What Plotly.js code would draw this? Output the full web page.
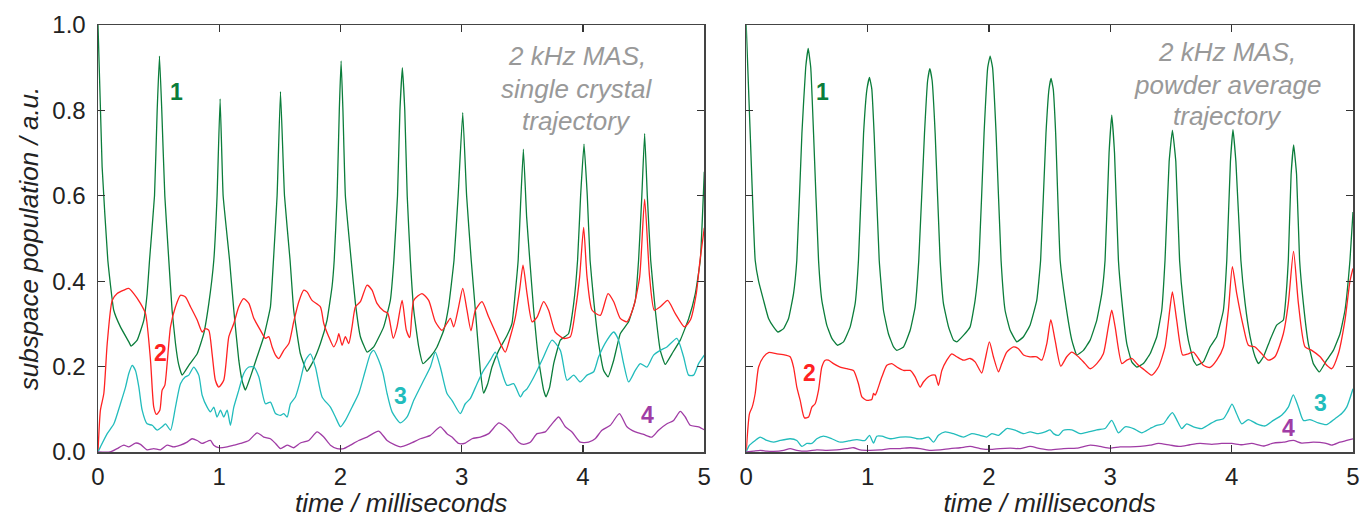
<!DOCTYPE html>
<html>
<head>
<meta charset="utf-8">
<script src="https://cdn.plot.ly/plotly-3.0.1.min.js"></script>
<style>html,body{margin:0;padding:0;background:#fff;}#chart{width:1364px;height:518px;}</style>
</head>
<body>
<div id="chart"></div>
<script>
// ---------- Left panel: single crystal trajectory ----------
var tL1 = [0,0.034,0.081,0.13,0.185,0.254,0.273,0.323,0.378,0.405,0.425,0.466,0.488,0.507,0.526,0.551,0.584,0.611,0.639,0.665,0.694,0.749,0.818,0.872,0.914,0.955,0.982,1.007,1.032,1.085,1.12,1.161,1.19,1.216,1.257,1.312,1.367,1.422,1.447,1.477,1.505,1.538,1.584,1.614,1.669,1.724,1.779,1.834,1.889,1.93,1.948,1.972,1.99,2.005,2.02,2.04,2.088,2.123,2.164,2.219,2.274,2.356,2.411,2.44,2.47,2.49,2.51,2.53,2.55,2.576,2.604,2.645,2.68,2.741,2.796,2.851,2.891,2.936,2.97,3.008,3.04,3.078,3.112,3.153,3.18,3.214,3.249,3.305,3.373,3.414,3.44,3.465,3.485,3.508,3.535,3.561,3.593,3.634,3.675,3.695,3.725,3.758,3.813,3.88,3.923,3.955,3.98,4.008,4.035,4.058,4.088,4.129,4.17,4.206,4.253,4.307,4.376,4.431,4.458,4.485,4.508,4.53,4.558,4.596,4.637,4.678,4.733,4.802,4.871,4.926,4.967,5.0];
var vL1 = [1.0,0.668,0.449,0.332,0.293,0.258,0.248,0.262,0.309,0.37,0.449,0.6,0.8,0.927,0.8,0.6,0.449,0.332,0.254,0.205,0.18,0.203,0.23,0.277,0.348,0.449,0.6,0.827,0.6,0.449,0.332,0.215,0.165,0.145,0.176,0.223,0.27,0.34,0.449,0.6,0.844,0.6,0.449,0.332,0.23,0.189,0.215,0.254,0.309,0.387,0.449,0.6,0.8,0.916,0.8,0.6,0.449,0.348,0.27,0.234,0.246,0.293,0.355,0.449,0.6,0.8,0.9,0.8,0.6,0.449,0.332,0.246,0.207,0.223,0.246,0.285,0.34,0.449,0.6,0.795,0.6,0.449,0.332,0.191,0.138,0.16,0.199,0.238,0.273,0.301,0.37,0.449,0.58,0.709,0.55,0.449,0.332,0.215,0.145,0.129,0.152,0.207,0.262,0.277,0.348,0.449,0.6,0.721,0.6,0.449,0.355,0.254,0.191,0.176,0.215,0.277,0.305,0.355,0.449,0.6,0.746,0.6,0.449,0.332,0.238,0.205,0.23,0.262,0.312,0.371,0.449,0.656];

var tL2 = [0,0.02,0.048,0.076,0.117,0.158,0.213,0.254,0.295,0.35,0.392,0.433,0.46,0.482,0.51,0.529,0.551,0.57,0.598,0.639,0.68,0.721,0.763,0.818,0.859,0.886,0.914,0.941,0.968,0.996,1.037,1.079,1.12,1.161,1.202,1.244,1.285,1.34,1.381,1.408,1.436,1.464,1.491,1.532,1.574,1.614,1.656,1.697,1.724,1.765,1.834,1.862,1.903,1.944,1.972,1.986,2.013,2.04,2.068,2.095,2.123,2.164,2.219,2.26,2.301,2.356,2.39,2.435,2.466,2.508,2.543,2.571,2.604,2.672,2.727,2.782,2.837,2.906,2.933,2.974,3.008,3.043,3.076,3.112,3.167,3.222,3.277,3.318,3.359,3.4,3.442,3.477,3.505,3.538,3.58,3.621,3.675,3.716,3.771,3.84,3.895,3.937,3.972,4.005,4.033,4.075,4.143,4.206,4.253,4.307,4.362,4.417,4.467,4.508,4.549,4.588,4.637,4.698,4.761,4.836,4.885,4.934,4.965,5.0];
var vL2 = [0,0.098,0.137,0.254,0.355,0.371,0.379,0.383,0.371,0.348,0.324,0.215,0.105,0.088,0.098,0.145,0.156,0.207,0.293,0.34,0.367,0.363,0.34,0.309,0.281,0.289,0.285,0.23,0.168,0.152,0.168,0.27,0.301,0.34,0.359,0.348,0.313,0.285,0.266,0.27,0.246,0.227,0.219,0.238,0.254,0.305,0.352,0.379,0.375,0.355,0.34,0.301,0.27,0.246,0.262,0.277,0.25,0.27,0.254,0.293,0.34,0.352,0.391,0.379,0.348,0.33,0.325,0.266,0.293,0.355,0.285,0.268,0.355,0.371,0.355,0.305,0.285,0.313,0.293,0.34,0.383,0.332,0.284,0.332,0.352,0.316,0.281,0.254,0.234,0.27,0.316,0.379,0.4375,0.371,0.305,0.316,0.352,0.332,0.281,0.266,0.27,0.332,0.41,0.526,0.41,0.332,0.32,0.371,0.352,0.313,0.305,0.34,0.41,0.592,0.41,0.332,0.34,0.355,0.324,0.293,0.309,0.371,0.45,0.525];

var tL3 = [0,0.02,0.076,0.131,0.185,0.227,0.254,0.282,0.309,0.337,0.364,0.405,0.447,0.488,0.529,0.557,0.598,0.639,0.68,0.721,0.749,0.79,0.831,0.859,0.9,0.927,0.955,0.982,1.01,1.037,1.065,1.092,1.12,1.161,1.202,1.244,1.285,1.326,1.381,1.422,1.464,1.505,1.532,1.56,1.587,1.628,1.669,1.711,1.752,1.793,1.848,1.917,1.958,2.0,2.04,2.095,2.15,2.205,2.247,2.274,2.315,2.35,2.384,2.425,2.494,2.549,2.604,2.686,2.741,2.782,2.823,2.878,2.919,2.988,3.029,3.07,3.126,3.18,3.235,3.277,3.318,3.373,3.428,3.483,3.51,3.538,3.58,3.621,3.675,3.744,3.813,3.868,3.923,3.977,4.033,4.088,4.129,4.198,4.253,4.293,4.335,4.376,4.431,4.472,4.527,4.582,4.637,4.692,4.774,4.829,4.871,4.912,4.953,5.0];
var vL3 = [0,0.012,0.043,0.066,0.113,0.152,0.184,0.203,0.191,0.152,0.098,0.066,0.0625,0.051,0.059,0.066,0.051,0.105,0.16,0.176,0.18,0.199,0.18,0.133,0.105,0.094,0.105,0.082,0.098,0.082,0.098,0.0625,0.105,0.145,0.184,0.199,0.199,0.176,0.113,0.117,0.09,0.086,0.09,0.082,0.113,0.129,0.168,0.215,0.23,0.199,0.129,0.105,0.082,0.059,0.074,0.105,0.137,0.191,0.23,0.238,0.215,0.185,0.137,0.094,0.068,0.082,0.121,0.168,0.199,0.234,0.199,0.137,0.121,0.09,0.113,0.125,0.16,0.191,0.215,0.234,0.199,0.156,0.16,0.129,0.141,0.148,0.168,0.191,0.223,0.262,0.238,0.168,0.18,0.164,0.18,0.188,0.223,0.262,0.281,0.262,0.207,0.164,0.191,0.207,0.199,0.227,0.238,0.246,0.266,0.223,0.18,0.18,0.207,0.227];

var tL4 = [0,0.1,0.158,0.213,0.254,0.309,0.35,0.405,0.46,0.515,0.57,0.625,0.68,0.735,0.776,0.818,0.859,0.886,0.927,0.955,0.996,1.065,1.12,1.175,1.244,1.312,1.367,1.422,1.464,1.505,1.56,1.614,1.669,1.738,1.807,1.862,1.917,1.972,2.027,2.082,2.15,2.219,2.315,2.384,2.452,2.494,2.576,2.659,2.741,2.823,2.878,2.919,2.974,3.029,3.084,3.153,3.222,3.305,3.359,3.414,3.469,3.51,3.565,3.621,3.689,3.744,3.799,3.854,3.909,3.977,4.046,4.1,4.156,4.225,4.3,4.362,4.431,4.5,4.568,4.623,4.692,4.747,4.802,4.843,4.884,4.953,5.0];
var vL4 = [0,0,0.008,0.016,0.012,0.021,0.018,0.005,0.008,0.005,0.016,0.012,0.016,0.023,0.031,0.027,0.02,0.023,0.027,0.016,0.01,0.012,0.016,0.02,0.027,0.045,0.035,0.031,0.02,0.008,0.016,0.01,0.021,0.027,0.047,0.035,0.016,0.008,0.008,0.016,0.027,0.035,0.049,0.027,0.016,0.012,0.02,0.031,0.039,0.059,0.043,0.035,0.02,0.021,0.031,0.035,0.043,0.068,0.059,0.043,0.023,0.018,0.023,0.043,0.047,0.066,0.082,0.059,0.047,0.023,0.023,0.031,0.051,0.0625,0.09,0.059,0.047,0.041,0.035,0.051,0.066,0.074,0.095,0.082,0.0625,0.059,0.052];

// ---------- Right panel: powder average trajectory ----------
var tR1 = [0,0.033,0.074,0.102,0.143,0.184,0.225,0.261,0.308,0.349,0.39,0.417,0.459,0.49,0.511,0.532,0.555,0.596,0.623,0.664,0.706,0.752,0.802,0.857,0.898,0.925,0.967,0.995,1.016,1.035,1.054,1.096,1.131,1.172,1.214,1.241,1.296,1.351,1.392,1.422,1.469,1.495,1.513,1.532,1.557,1.598,1.625,1.667,1.708,1.735,1.79,1.845,1.886,1.918,1.96,1.99,2.01,2.03,2.059,2.1,2.133,2.175,2.23,2.285,2.339,2.394,2.426,2.47,2.495,2.512,2.53,2.55,2.587,2.628,2.683,2.724,2.779,2.834,2.889,2.93,2.957,2.99,3.012,3.035,3.067,3.095,3.136,3.177,3.218,3.273,3.328,3.383,3.424,3.451,3.485,3.512,3.54,3.571,3.602,3.643,3.685,3.712,3.767,3.822,3.877,3.932,3.96,3.99,4.011,4.035,4.076,4.111,4.152,4.193,4.221,4.262,4.316,4.371,4.426,4.454,4.467,4.49,4.511,4.535,4.56,4.591,4.632,4.673,4.723,4.783,4.838,4.893,4.934,4.975,5.0];
var vR1 = [1.0,0.746,0.449,0.40,0.355,0.3125,0.293,0.281,0.289,0.3125,0.371,0.449,0.746,0.9,0.945,0.9,0.746,0.449,0.355,0.297,0.266,0.25,0.258,0.293,0.348,0.449,0.746,0.85,0.877,0.85,0.746,0.449,0.332,0.277,0.246,0.238,0.246,0.285,0.34,0.449,0.746,0.87,0.898,0.87,0.746,0.449,0.348,0.293,0.262,0.258,0.273,0.293,0.355,0.449,0.746,0.9,0.927,0.9,0.746,0.449,0.332,0.285,0.258,0.27,0.297,0.355,0.449,0.746,0.85,0.875,0.85,0.746,0.449,0.355,0.262,0.227,0.238,0.262,0.309,0.371,0.449,0.7,0.789,0.7,0.449,0.355,0.254,0.211,0.199,0.207,0.23,0.27,0.332,0.449,0.68,0.754,0.68,0.449,0.348,0.262,0.215,0.203,0.211,0.246,0.27,0.332,0.449,0.68,0.755,0.68,0.449,0.348,0.27,0.223,0.207,0.223,0.262,0.297,0.309,0.387,0.449,0.65,0.719,0.65,0.449,0.348,0.254,0.207,0.1875,0.215,0.238,0.277,0.332,0.449,0.562];

var tR2 = [0,0.027,0.049,0.074,0.102,0.143,0.184,0.253,0.321,0.362,0.39,0.417,0.445,0.48,0.514,0.541,0.568,0.596,0.623,0.651,0.678,0.719,0.774,0.829,0.884,0.925,0.953,0.994,1.035,1.049,1.063,1.076,1.118,1.159,1.2,1.241,1.296,1.351,1.392,1.433,1.46,1.502,1.529,1.557,1.584,1.612,1.653,1.694,1.735,1.79,1.845,1.886,1.941,1.968,2.004,2.037,2.079,2.106,2.147,2.202,2.243,2.285,2.339,2.394,2.436,2.477,2.51,2.545,2.592,2.641,2.683,2.737,2.792,2.834,2.889,2.943,2.984,3.012,3.04,3.095,3.136,3.177,3.232,3.287,3.342,3.397,3.451,3.493,3.512,3.547,3.597,3.643,3.685,3.726,3.767,3.822,3.877,3.932,3.973,4.006,4.042,4.097,4.138,4.193,4.248,4.303,4.357,4.426,4.467,4.51,4.55,4.605,4.66,4.729,4.784,4.825,4.879,4.934,4.975,5.0];
var vR2 = [0,0.09,0.105,0.137,0.199,0.223,0.233,0.23,0.227,0.223,0.199,0.152,0.121,0.08,0.082,0.105,0.113,0.145,0.199,0.215,0.215,0.207,0.199,0.195,0.191,0.16,0.129,0.121,0.123,0.137,0.133,0.141,0.176,0.203,0.207,0.199,0.191,0.191,0.176,0.152,0.164,0.176,0.18,0.18,0.156,0.191,0.215,0.23,0.223,0.215,0.219,0.211,0.185,0.215,0.258,0.223,0.1875,0.207,0.234,0.246,0.242,0.227,0.223,0.223,0.215,0.254,0.31,0.262,0.201,0.223,0.234,0.223,0.207,0.195,0.207,0.23,0.293,0.332,0.293,0.207,0.215,0.219,0.203,0.191,0.18,0.199,0.246,0.34,0.375,0.309,0.227,0.23,0.234,0.219,0.203,0.198,0.215,0.246,0.332,0.434,0.371,0.293,0.25,0.246,0.23,0.215,0.223,0.277,0.348,0.47,0.348,0.246,0.238,0.223,0.203,0.195,0.23,0.309,0.40,0.43];

var tR3 = [0,0.027,0.074,0.115,0.17,0.225,0.28,0.362,0.417,0.459,0.5,0.541,0.582,0.637,0.706,0.774,0.843,0.912,0.98,1.016,1.049,1.076,1.118,1.186,1.269,1.351,1.406,1.447,1.502,1.543,1.584,1.639,1.708,1.79,1.859,1.927,1.982,2.024,2.079,2.147,2.216,2.285,2.339,2.408,2.463,2.504,2.532,2.573,2.614,2.683,2.751,2.82,2.889,2.957,3.012,3.067,3.122,3.191,3.259,3.328,3.383,3.438,3.479,3.512,3.547,3.589,3.63,3.685,3.753,3.822,3.877,3.932,3.968,4.003,4.042,4.083,4.138,4.207,4.275,4.344,4.412,4.467,4.508,4.55,4.591,4.646,4.714,4.784,4.852,4.907,4.948,5.0];
var vR3 = [0,0.016,0.027,0.035,0.027,0.023,0.027,0.031,0.027,0.013,0.02,0.02,0.031,0.037,0.031,0.023,0.026,0.029,0.027,0.039,0.021,0.037,0.037,0.031,0.035,0.035,0.031,0.031,0.035,0.023,0.039,0.047,0.043,0.035,0.043,0.039,0.035,0.043,0.039,0.055,0.051,0.043,0.047,0.043,0.047,0.052,0.043,0.039,0.051,0.052,0.043,0.047,0.052,0.055,0.074,0.045,0.059,0.055,0.045,0.055,0.0625,0.066,0.082,0.092,0.076,0.055,0.066,0.059,0.055,0.066,0.074,0.078,0.094,0.112,0.089,0.066,0.076,0.066,0.061,0.074,0.086,0.105,0.134,0.105,0.074,0.076,0.068,0.064,0.078,0.09,0.105,0.148];

var tR4 = [0,0.06,0.115,0.17,0.225,0.308,0.362,0.417,0.5,0.582,0.664,0.747,0.829,0.884,0.939,1.021,1.104,1.186,1.269,1.351,1.433,1.516,1.598,1.68,1.763,1.845,1.927,2.01,2.092,2.175,2.257,2.339,2.422,2.504,2.614,2.724,2.834,2.916,2.998,3.081,3.163,3.246,3.328,3.397,3.493,3.575,3.657,3.74,3.836,3.918,4.001,4.083,4.166,4.261,4.344,4.426,4.508,4.577,4.673,4.769,4.824,4.893,4.948,5.0];
var vR4 = [0,0.002,0.004,0.002,0.0015,0.004,0.008,0.004,0.002,0.005,0.004,0.005,0.008,0.01,0.005,0.004,0.005,0.008,0.008,0.01,0.008,0.004,0.005,0.008,0.01,0.013,0.008,0.006,0.008,0.009,0.008,0.013,0.008,0.005,0.008,0.009,0.016,0.013,0.009,0.012,0.012,0.013,0.016,0.02,0.016,0.013,0.017,0.02,0.018,0.02,0.02,0.017,0.02,0.014,0.021,0.023,0.027,0.021,0.023,0.021,0.016,0.023,0.027,0.031];

// tick labels and texts
var xTicks = [0,1,2,3,4,5];
var yTicks = [0,0.2,0.4,0.6,0.8,1.0];
var yTickText = ['0.0','0.2','0.4','0.6','0.8','1.0'];
var seriesLabels = ['1','2','3','4'];
var noteLeft = ['2 kHz MAS,','single crystal','trajectory'];
var noteRight = ['2 kHz MAS,','powder average','trajectory'];

var colors = ['#0b7d3b','#ff2222','#22bcbc','#a03ca5'];
var FONT = 'Liberation Sans, Arial, Helvetica, sans-serif';

function tr(x, y, c, xa, ya, sm) {
  return {x: x, y: y, type: 'scatter', mode: 'lines', xaxis: xa, yaxis: ya,
    line: {color: c, width: 1.3, shape: 'spline', smoothing: sm}, showlegend: false, hoverinfo: 'skip'};
}
var data = [
  tr(tL1, vL1, colors[0], 'x', 'y', 0.35),
  tr(tL2, vL2, colors[1], 'x', 'y', 0.6),
  tr(tL3, vL3, colors[2], 'x', 'y', 0.6),
  tr(tL4, vL4, colors[3], 'x', 'y', 0.6),
  tr(tR1, vR1, colors[0], 'x2', 'y2', 0.35),
  tr(tR2, vR2, colors[1], 'x2', 'y2', 0.6),
  tr(tR3, vR3, colors[2], 'x2', 'y2', 0.6),
  tr(tR4, vR4, colors[3], 'x2', 'y2', 0.6)
];

function xax(dom, anchor) {
  return {domain: dom, anchor: anchor, range: [0,5], tickvals: xTicks, ticks: 'inside', ticklen: 7,
    tickwidth: 1.3, tickcolor: '#333', showline: true, linecolor: '#444', linewidth: 1.5, mirror: 'allticks',
    showgrid: false, zeroline: false, tickfont: {family: FONT, size: 24, color: '#222'}, ticklabelstandoff: 3,
    title: {text: 'time / milliseconds', font: {family: FONT, size: 26, color: '#222', style: 'italic'}, standoff: 11}};
}
function yax(anchor, labels) {
  var a = {anchor: anchor, domain: [0,1], range: [0,1], tickvals: yTicks, ticktext: yTickText, ticks: 'inside', ticklen: 7,
    tickwidth: 1.3, tickcolor: '#333', showline: true, linecolor: '#444', linewidth: 1.5, mirror: 'allticks',
    showgrid: false, zeroline: false, showticklabels: labels, tickfont: {family: FONT, size: 24, color: '#222'}, ticklabelstandoff: 6};
  if (labels) a.title = {text: 'subspace population / a.u.', font: {family: FONT, size: 26, color: '#222', style: 'italic'}, standoff: 6};
  return a;
}

function lab(txt, x, y, c, xr, yr) {
  return {text: '<b>' + txt + '</b>', x: x, y: y, xref: xr, yref: yr, showarrow: false,
    font: {family: FONT, size: 23, color: c}, xanchor: 'center', yanchor: 'middle'};
}
function note(txt, x, y, xr, yr) {
  return {text: txt, x: x, y: y, xref: xr, yref: yr, showarrow: false, align: 'center',
    font: {family: FONT, size: 26, color: '#999999', style: 'italic'}, xanchor: 'center', yanchor: 'middle'};
}

var layout = {
  width: 1364, height: 518, paper_bgcolor: '#fff', plot_bgcolor: '#fff',
  margin: {l: 97.5, r: 11, t: 25, b: 66},
  xaxis: xax([0, 0.4831], 'y'),
  xaxis2: xax([0.5165, 1], 'y2'),
  yaxis: yax('x', true),
  yaxis2: yax('x2', false),
  annotations: [
    lab(seriesLabels[0], 0.647, 0.843, colors[0], 'x', 'y'),
    lab(seriesLabels[1], 0.515, 0.231, colors[1], 'x', 'y'),
    lab(seriesLabels[2], 2.494, 0.13, colors[2], 'x', 'y'),
    lab(seriesLabels[3], 4.53, 0.086, colors[3], 'x', 'y'),
    lab(seriesLabels[0], 0.632, 0.843, colors[0], 'x2', 'y2'),
    lab(seriesLabels[1], 0.519, 0.184, colors[1], 'x2', 'y2'),
    lab(seriesLabels[2], 4.736, 0.114, colors[2], 'x2', 'y2'),
    lab(seriesLabels[3], 4.465, 0.056, colors[3], 'x2', 'y2'),
    note(noteLeft[0], 3.95, 0.927, 'x', 'y'),
    note(noteLeft[1], 3.95, 0.851, 'x', 'y'),
    note(noteLeft[2], 3.95, 0.775, 'x', 'y'),
    note(noteRight[0], 3.962, 0.937, 'x2', 'y2'),
    note(noteRight[1], 3.962, 0.859, 'x2', 'y2'),
    note(noteRight[2], 3.962, 0.787, 'x2', 'y2')
  ]
};

Plotly.newPlot('chart', data, layout, {displayModeBar: false, staticPlot: true});
</script>
</body>
</html>
